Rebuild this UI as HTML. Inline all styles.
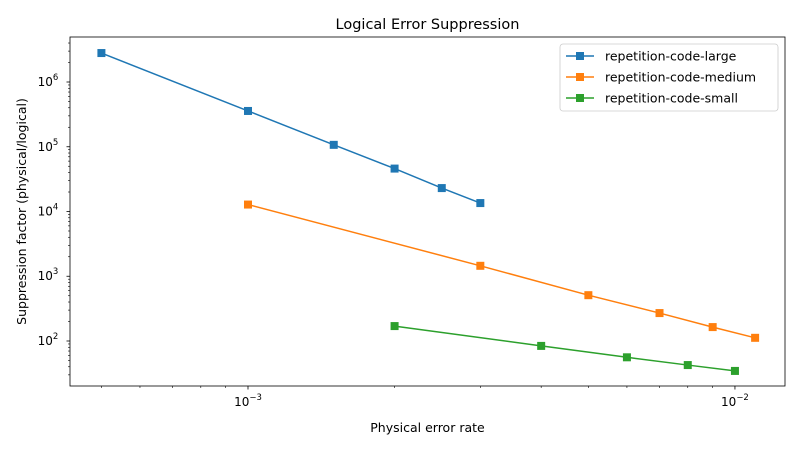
<!DOCTYPE html>
<html><head><meta charset="utf-8"><style>
body{margin:0;background:#fff;font-family:"Liberation Sans","DejaVu Sans",sans-serif}
svg text{font-family:"DejaVu Sans","Liberation Sans",sans-serif}
</style></head><body>
<svg id="chart" width="800" height="450" xmlns="http://www.w3.org/2000/svg"></svg>
<script>
const seriesNames = ["repetition-code-large","repetition-code-medium","repetition-code-small"];
const seriesColors = ["#1f77b4","#ff7f0e","#2ca02c"];
const largeX = [5e-4,1e-3,1.5e-3,2e-3,2.5e-3,3e-3];
const largeY = [2.8e6,3.57e5,1.07e5,4.6e4,2.3e4,1.35e4];
const mediumX = [1e-3,3e-3,5e-3,7e-3,9e-3,1.1e-2];
const mediumY = [1.28e4,1450,510,270,164,112];
const smallX = [2e-3,4e-3,6e-3,8e-3,1e-2];
const smallY = [170,84,56,42.5,34.5];
const xTickExps = [-3,-2];
const yTickExps = [2,3,4,5,6];

const NS="http://www.w3.org/2000/svg";
const svg=document.getElementById('chart');
const L=70,R=785,T=37,B=386;
const xMin=Math.log10(4.31e-4),xMax=Math.log10(1.267e-2);
const yMin=1.305,yMax=6.695;
const sx=v=>L+(Math.log10(v)-xMin)/(xMax-xMin)*(R-L);
const sy=v=>B-(Math.log10(v)-yMin)/(yMax-yMin)*(B-T);
function mk(tag,attrs,parent){const e=document.createElementNS(NS,tag);for(const k in attrs)e.setAttribute(k,attrs[k]);(parent||svg).appendChild(e);return e;}
function txt(s,attrs){const e=mk('text',attrs);e.textContent=s;return e;}

// x ticks
for(let d=-4;d<=-2;d++){for(let m=1;m<10;m++){const v=m*Math.pow(10,d);const lv=Math.log10(v);if(lv<xMin||lv>xMax)continue;const x=sx(v);
 const t=mk('line',{x1:x,x2:x,y1:B,y2:B+(m==1?3.5:2),stroke:'#000','stroke-width':m==1?0.8:0.6});
 }}
xTickExps.forEach(e=>{const x=sx(Math.pow(10,e));const t=mk('text',{x:x,y:B+20,'text-anchor':'middle','font-size':12});
 
 t.appendChild(document.createTextNode('10'));const s=mk('tspan',{dy:-6,'font-size':8.5},t);s.textContent='−'+Math.abs(e);});
// y ticks
for(let d=1;d<=6;d++){for(let m=1;m<10;m++){const v=m*Math.pow(10,d);const lv=Math.log10(v);if(lv<yMin||lv>yMax)continue;const y=sy(v);
 const t=mk('line',{x1:L,x2:L-(m==1?3.5:2),y1:y,y2:y,stroke:'#000','stroke-width':m==1?0.8:0.6});
 }}
yTickExps.forEach(e=>{const y=sy(Math.pow(10,e));const t=mk('text',{x:L-22,y:y+4,'text-anchor':'middle','font-size':12});
 
 t.appendChild(document.createTextNode('10'));const s=mk('tspan',{dy:-6,'font-size':8.5},t);s.textContent=String(e);});

// series
const allX=[largeX,mediumX,smallX],allY=[largeY,mediumY,smallY];
allX.forEach((xs,i)=>{const g=mk('g',{});
 const pts=xs.map((x,j)=>sx(x)+','+sy(allY[i][j])).join(' ');
 const pl=mk('polyline',{points:pts,fill:'none',stroke:seriesColors[i],'stroke-width':1.5},g);
 
 xs.forEach((x,j)=>{const r=mk('rect',{x:sx(x)-4,y:sy(allY[i][j])-4,width:8,height:8,fill:seriesColors[i]},g);
  });});

// frame
const fr=mk('rect',{x:L,y:T,width:R-L,height:B-T,fill:'none',stroke:'#000','stroke-width':0.8});

// titles
let t=txt('Logical Error Suppression',{x:(L+R)/2,y:29,'text-anchor':'middle','font-size':14.5});

t=txt('Physical error rate',{x:(L+R)/2,y:432,'text-anchor':'middle','font-size':12.5});

t=txt('Suppression factor (physical/logical)',{x:0,y:0,'text-anchor':'middle','font-size':12.5,transform:'translate(26,'+((T+B)/2)+') rotate(-90)'});

// legend
const lg=mk('g',{});
mk('rect',{x:560,y:44,width:218,height:67,rx:3,fill:'#fff',stroke:'#ccc','stroke-width':0.8},lg);
seriesNames.forEach((n,i)=>{const y=56+i*21;const e=mk('g',{},lg);
 
 mk('line',{x1:566,x2:594,y1:y,y2:y,stroke:seriesColors[i],'stroke-width':1.5},e);
 mk('rect',{x:576,y:y-4,width:8,height:8,fill:seriesColors[i]},e);
 const tt=mk('text',{x:605,y:y+4.5,'font-size':12.5},e);tt.textContent=n;});
</script>
</body></html>
